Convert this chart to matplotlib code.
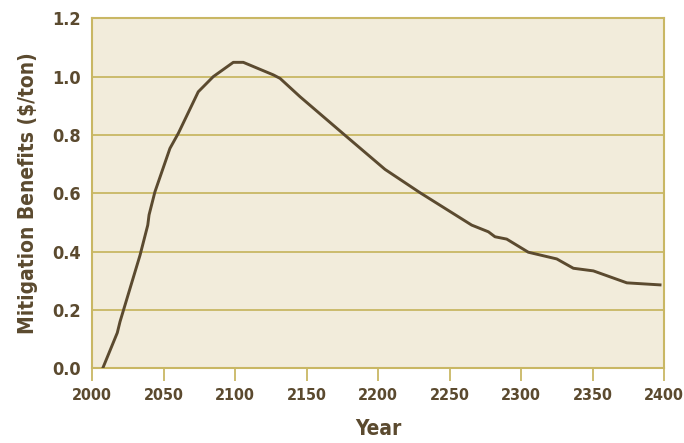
import matplotlib
matplotlib.use('Agg')
import matplotlib.pyplot as plt

# values
years = [2007.5, 2017.7, 2019.6, 2033.6, 2039.0, 2039.9, 2044.0, 2054.5, 2060.4,
         2074.3, 2084.8, 2098.8, 2105.8, 2126.8, 2131.5, 2145.5, 2178.1, 2204.9,
         2229.4, 2265.5, 2277.2, 2281.8, 2290.0, 2305.1, 2325.0, 2336.6, 2350.6,
         2374.0, 2397.2]
benefits = [0.0, 0.122, 0.16, 0.388, 0.491, 0.526, 0.605, 0.754, 0.806,
            0.948, 1.0, 1.049, 1.049, 1.006, 0.994, 0.931, 0.794, 0.682,
            0.602, 0.491, 0.468, 0.451, 0.443, 0.398, 0.375, 0.343, 0.334,
            0.293, 0.286]
xticks = [2000, 2050, 2100, 2150, 2200, 2250, 2300, 2350, 2400]
yticks = [0.0, 0.2, 0.4, 0.6, 0.8, 1.0, 1.2]

brown = '#5b4a2f'
gold = '#c9b764'
bg = '#f2ecdb'

plt.rcParams['font.family'] = ['DejaVu Sans']
plt.rcParams['font.stretch'] = 'condensed'
plt.rcParams['font.weight'] = 'bold'

fig = plt.figure(figsize=(6.84, 4.43), dpi=100)
ax = fig.add_axes([0.1345, 0.1686, 0.8363, 0.7901])
ax.set_facecolor(bg)

ax.plot(years, benefits, color=brown, linewidth=2.1, zorder=3)

ax.set_xlim(2000, 2400)
ax.set_ylim(0, 1.2)
ax.set_xticks(xticks)
ax.set_yticks(yticks)
ax.set_yticklabels(['%.1f' % v for v in yticks])
ax.yaxis.grid(True, color=gold, linewidth=1.3)
ax.set_axisbelow(True)

for s in ax.spines.values():
    s.set_color(gold)
    s.set_linewidth(1.5)

ax.tick_params(axis='x', colors=gold, length=9, width=1.3, pad=5,
               labelcolor=brown, labelsize=11.5)
ax.tick_params(axis='y', length=0, pad=8, labelcolor=brown, labelsize=13)
for lab in ax.get_xticklabels() + ax.get_yticklabels():
    lab.set_fontweight('heavy')
    lab.set_fontstretch('condensed')

ax.set_xlabel('Year', color=brown, fontsize=15, fontweight='heavy',
              fontstretch='condensed', labelpad=12)
ax.set_ylabel('Mitigation Benefits ($/ton)', color=brown, fontsize=15,
              fontweight='heavy', fontstretch='condensed', labelpad=10)

fig.savefig('out.png', dpi=100)
